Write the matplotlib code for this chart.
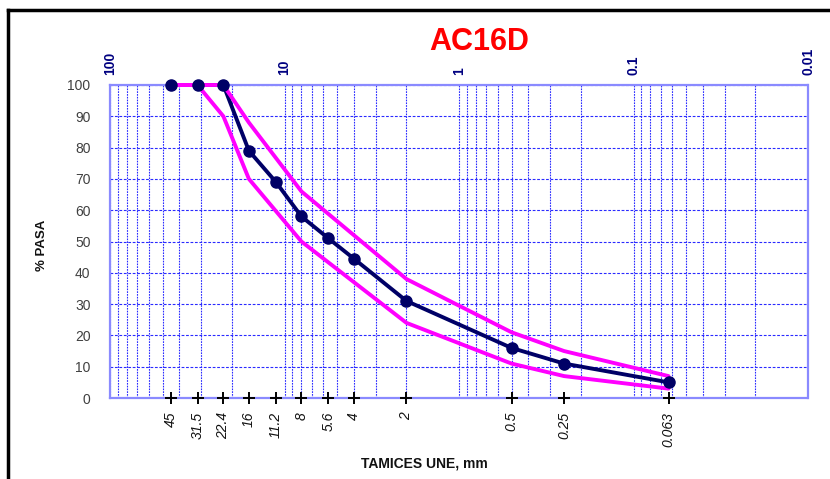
import matplotlib
matplotlib.use("Agg")
import matplotlib.pyplot as plt
from matplotlib.ticker import LogLocator, FixedLocator, FixedFormatter, NullFormatter
from matplotlib.lines import Line2D

plt.rcParams['font.family'] = ['Liberation Sans', 'DejaVu Sans']

# ---- data ----
sieves = [45, 31.5, 22.4, 16, 11.2, 8, 5.6, 4, 2, 0.5, 0.25, 0.063]
sieve_labels = ['45', '31.5', '22.4', '16', '11.2', '8', '5.6', '4', '2', '0.5', '0.25', '0.063']
pasa = [100, 100, 100, 79, 69, 58, 51, 44.5, 31, 16, 11, 5]

env_sizes = [45, 31.5, 22.4, 16, 8, 4, 2, 0.5, 0.25, 0.063]
upper = [100, 100, 100, 88, 66, 52, 38, 21, 15, 7]
lower = [100, 100, 90, 70, 50, 37, 24, 11, 7, 3]

decades = [100, 10, 1, 0.1, 0.01]
decade_labels = ['100', '10', '1', '0.1', '0.01']
y_ticks = list(range(0, 101, 10))

title = 'AC16D'

# ---- figure ----
W, H = 830, 479
fig = plt.figure(figsize=(W / 100, H / 100), dpi=100)
ax = fig.add_axes([110 / W, 1 - 398 / H, (808 - 110) / W, (398 - 85) / H])

ax.set_xscale('log')
ax.set_xlim(100, 0.01)
ax.set_ylim(0, 100)

grid_col = '#2a2aff'
ax.xaxis.set_major_locator(FixedLocator(decades))
ax.xaxis.set_minor_locator(LogLocator(base=10, subs=range(2, 10), numticks=20))
ax.xaxis.set_minor_formatter(NullFormatter())
ax.set_yticks(y_ticks)
ax.grid(True, which='both', axis='x', color=grid_col, linestyle=(0, (1.5, 1)), linewidth=0.8)
ax.grid(True, which='major', axis='y', color=grid_col, linestyle=(0, (2.5, 1.5)), linewidth=0.8)
ax.set_axisbelow(True)

# top decade labels
ax.tick_params(axis='x', which='both', length=0, labelbottom=False, labeltop=True, pad=7)
ax.xaxis.set_major_formatter(FixedFormatter(decade_labels))
for lab in ax.get_xticklabels():
    lab.set_rotation(90)
    lab.set_color('#000080')
    lab.set_fontweight('bold')
    lab.set_fontsize(10)

ax.tick_params(axis='y', length=0, labelsize=10, labelcolor='#404040', pad=14)

for s in ax.spines.values():
    s.set_color('#8a8aff')
    s.set_linestyle((0, (1.5, 1)))
    s.set_linewidth(1.6)

# bottom sieve labels
sec = ax.secondary_xaxis('bottom')
sec.xaxis.set_major_locator(FixedLocator(sieves))
sec.xaxis.set_major_formatter(FixedFormatter(sieve_labels))
sec.xaxis.set_minor_locator(FixedLocator([]))
sec.tick_params(axis='x', length=0, pad=10, labelsize=10, labelcolor='#111111')
sec.spines['bottom'].set_visible(False)
for lab in sec.get_xticklabels():
    lab.set_rotation(90)
    lab.set_style('italic')

# curves: navy line, magenta envelopes on top, navy markers on top
ax.plot(sieves, pasa, color='#000066', lw=2.8, clip_on=False, zorder=3)
ax.plot(env_sizes, upper, color='#ff00ff', lw=2.8, solid_joinstyle='round',
        solid_capstyle='round', clip_on=False, zorder=3.5)
ax.plot(env_sizes, lower, color='#ff00ff', lw=2.8, solid_joinstyle='round',
        solid_capstyle='round', clip_on=False, zorder=3.5)
ax.plot(sieves, pasa, linestyle='none', marker='o', markersize=8,
        markerfacecolor='#000066', markeredgecolor='#000066', clip_on=False, zorder=4)
ax.plot(sieves, [0] * len(sieves), linestyle='none', marker='+', color='black',
        markersize=8, markeredgewidth=1.4, clip_on=False, zorder=5)

# texts
fig.text(479 / W, 1 - 42 / H, title, color='#ff0000', fontsize=22, fontweight='bold',
         ha='center', va='center')
fig.text(42 / W, 1 - 245 / H, '% PASA', rotation=90, fontsize=9.5, fontweight='bold',
         ha='center', va='center', color='#111111')
fig.text(424 / W, 1 - 463 / H, 'TAMICES UNE, mm', fontsize=10, fontweight='bold',
         ha='center', va='center', color='#111111')

# outer black frame (left + top)
fig.add_artist(Line2D([8 / W, 8 / W], [0, 1 - 10 / H], color='black', lw=2.5,
                      transform=fig.transFigure))
fig.add_artist(Line2D([8 / W, 1], [1 - 10 / H, 1 - 10 / H], color='black', lw=2.5,
                      transform=fig.transFigure))

fig.savefig('out.png', dpi=100)
